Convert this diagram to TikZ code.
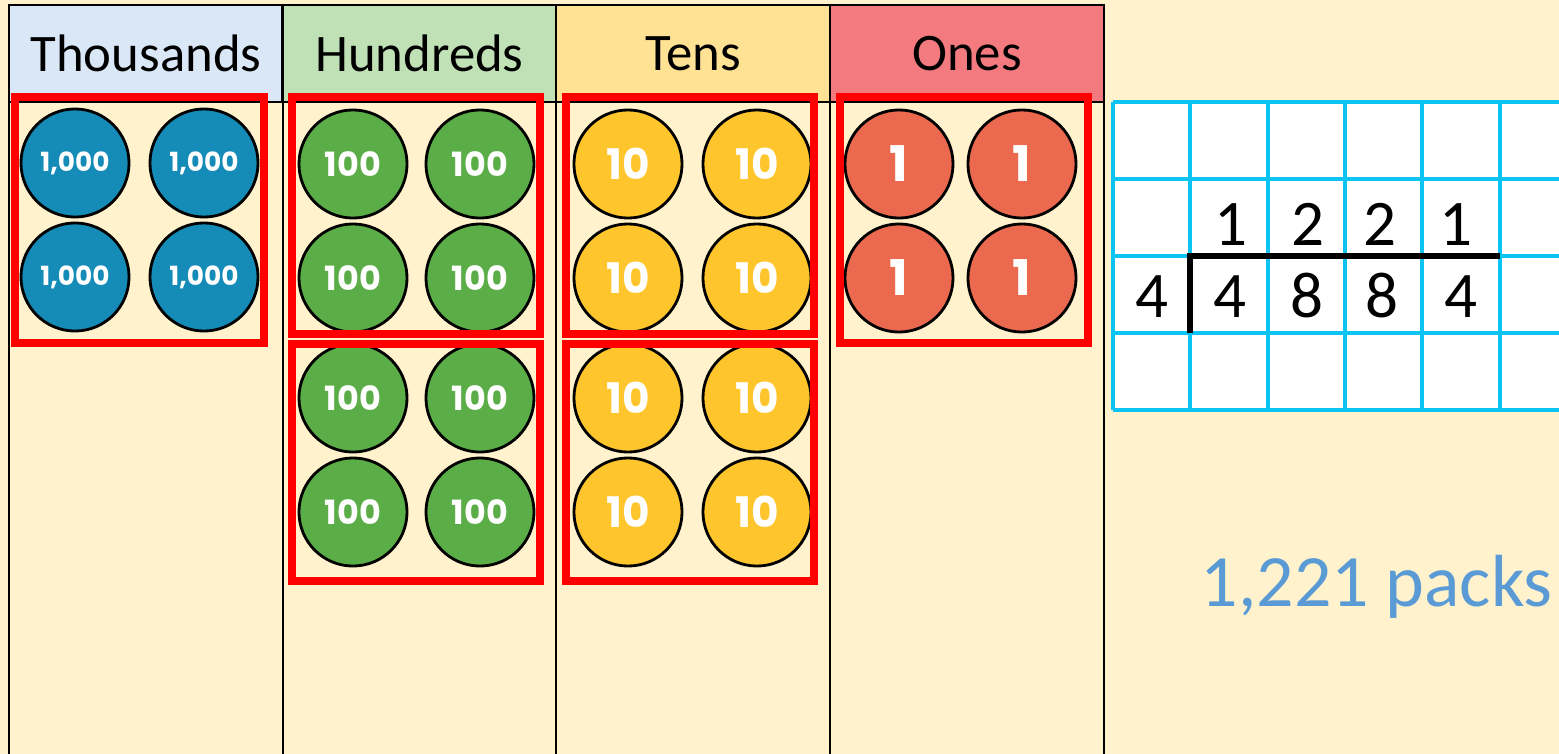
\documentclass[tikz,border=0pt]{standalone}
\usepackage{fontspec}
\setmainfont{Carlito}
\newfontfamily\coinfont{Poppins}
\usepackage{xcolor}
\usepackage{tikz}

\definecolor{chartbg}{HTML}{FFF2CC}
\definecolor{thhead}{HTML}{D9E7F6}
\definecolor{huhead}{HTML}{C0E0B6}
\definecolor{tehead}{HTML}{FFE294}
\definecolor{onhead}{HTML}{F37B80}
\definecolor{thblue}{HTML}{158BB7}
\definecolor{hugreen}{HTML}{5BAE47}
\definecolor{teyellow}{HTML}{FFC52D}
\definecolor{onred}{HTML}{EB6A4F}
\definecolor{gridcyan}{HTML}{0CC4F2}
\definecolor{packblue}{HTML}{5B9BD5}

\begin{document}
\begin{tikzpicture}[
    x=0.01cm, y=-0.01cm,
    head/.style={draw, line width=0.7pt, minimum width=2.74cm, minimum height=0.97cm,
                 inner sep=0pt, text depth=0pt, font=\fontsize{15}{18}\selectfont},
    coin/.style={circle, draw, line width=0.8pt, minimum size=1.08cm, inner sep=0pt,
                 text=white},
    thcoin/.style={coin, fill=thblue,   font=\coinfont\bfseries\fontsize{7.5}{9}\selectfont},
    hucoin/.style={coin, fill=hugreen,  font=\coinfont\bfseries\fontsize{9.5}{11}\selectfont},
    tecoin/.style={coin, fill=teyellow, font=\coinfont\bfseries\fontsize{12}{14}\selectfont},
    oncoin/.style={coin, fill=onred,    font=\coinfont\bfseries\fontsize{14}{16}\selectfont},
    group/.style={draw=red, line width=2.1pt},
    tableline/.style={line width=0.7pt},
    gridline/.style={draw=gridcyan, line width=1pt},
    digit/.style={anchor=base, inner sep=0pt, font=\fontsize{18.5}{22}\selectfont},
  ]
  \useasboundingbox (0,0) rectangle (1559,754);
  \fill[chartbg] (0,0) rectangle (1559,754);

  % place value chart
  \node[head, fill=thhead] (thousands) at (146,53.5)   {Thousands};
  \node[head, fill=huhead] (hundreds)  at (419.5,53.5) {Hundreds};
  \node[head, fill=tehead] (tens)      at (693,53.5)   {Tens};
  \node[head, fill=onhead] (ones)      at (967,53.5)   {Ones};
  \foreach \x in {9, 283, 556, 830, 1104}
    \draw[tableline] (\x,5) -- (\x,754);
  \draw[tableline] (9,102) -- (1104,102);

  % Thousands
  \node[thcoin] (th1) at (75,163)  {1,000};
  \node[thcoin] (th2) at (204,163) {1,000};
  \node[thcoin] (th3) at (75,277)  {1,000};
  \node[thcoin] (th4) at (204,277) {1,000};
  \draw[group] (15,97) rectangle (264,343);

  % Hundreds
  \node[hucoin] (hu1) at (353,164) {100};
  \node[hucoin] (hu2) at (480,164) {100};
  \node[hucoin] (hu3) at (353,278) {100};
  \node[hucoin] (hu4) at (480,278) {100};
  \node[hucoin] (hu5) at (353,398) {100};
  \node[hucoin] (hu6) at (480,398) {100};
  \node[hucoin] (hu7) at (353,512) {100};
  \node[hucoin] (hu8) at (480,512) {100};
  \draw[group] (292,97) rectangle (540,334);
  \draw[group] (292,344) rectangle (540,581);

  % Tens
  \node[tecoin] (te1) at (628,164) {10};
  \node[tecoin] (te2) at (757,164) {10};
  \node[tecoin] (te3) at (628,278) {10};
  \node[tecoin] (te4) at (757,278) {10};
  \node[tecoin] (te5) at (628,398) {10};
  \node[tecoin] (te6) at (757,398) {10};
  \node[tecoin] (te7) at (628,512) {10};
  \node[tecoin] (te8) at (757,512) {10};
  \draw[group] (566,97) rectangle (814,334);
  \draw[group] (566,344) rectangle (814,581);

  % Ones
  \node[oncoin] (on1) at (899,164)  {1};
  \node[oncoin] (on2) at (1022,164) {1};
  \node[oncoin] (on3) at (899,278)  {1};
  \node[oncoin] (on4) at (1022,278) {1};
  \draw[group] (840,97) rectangle (1088,343);

  % long division grid
  \fill[white] (1113,102) rectangle (1559,410);
  \foreach \y in {102, 179, 256, 333, 410}
    \draw[gridline] (1113,\y) -- (1559,\y);
  \foreach \x in {1113, 1190, 1268, 1345, 1422, 1500}
    \draw[gridline] (\x,102) -- (\x,410);
  \draw[line width=1.6pt] (1190,333) -- (1190,256) -- (1500,256);

  \node[digit] (q1) at (1231,245) {1};
  \node[digit] (q2) at (1308,245) {2};
  \node[digit] (q3) at (1380,245) {2};
  \node[digit] (q4) at (1456,245) {1};
  \node[digit] (divisor) at (1152,317) {4};
  \node[digit] (d1) at (1230,317) {4};
  \node[digit] (d2) at (1307,317) {8};
  \node[digit] (d3) at (1382,317) {8};
  \node[digit] (d4) at (1461,317) {4};

  \node[anchor=base west, inner sep=0pt, text=packblue,
        font=\fontsize{21}{25}\selectfont] (packs) at (1200,606) {1,221 packs};
\end{tikzpicture}
\end{document}
